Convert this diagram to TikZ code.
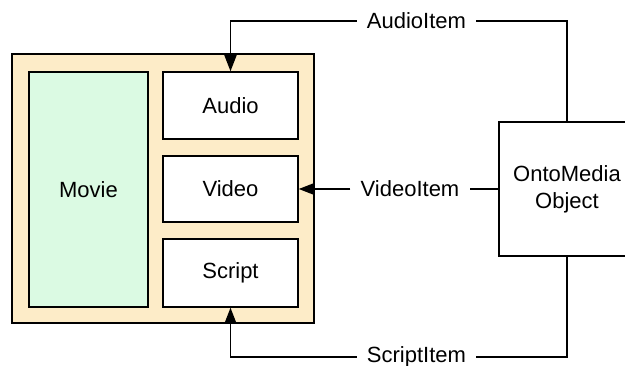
\documentclass[tikz,border=0pt]{standalone}
\usepackage{fontspec}
\setmainfont{Liberation Sans}
\usetikzlibrary{arrows.meta}
\definecolor{framefill}{RGB}{253,236,200}
\definecolor{moviefill}{RGB}{219,250,227}
\begin{document}
\begin{tikzpicture}[x=1pt,y=-1pt,
  every node/.style={font=\fontsize{22}{27}\selectfont},
  box/.style={draw=black, line width=1.5pt, inner sep=0pt, anchor=center},
  lbl/.style={inner xsep=10pt, inner ysep=0pt},
  link/.style={line width=1.5pt},
  arr/.style={link, -{Triangle[length=16pt,width=12pt]}}]
  \useasboundingbox (0,0) rectangle (625,366);
  % container and its parts
  \node[box, fill=framefill, minimum width=302pt, minimum height=269pt] (frame) at (163,188.5) {};
  \node[box, fill=moviefill, minimum width=119pt, minimum height=235pt] (movie) at (88.5,189.5) {Movie};
  \node[box, fill=white, minimum width=135pt, minimum height=67pt] (audio) at (230.5,105.5) {Audio};
  \node[box, fill=white, minimum width=135pt, minimum height=66pt] (video) at (230.5,189) {Video};
  \node[box, fill=white, minimum width=135pt, minimum height=68pt] (script) at (230.5,273) {Script};
  % the object on the right
  \node[box, fill=white, minimum width=136pt, minimum height=134pt, align=center] (onto) at (567,189) {OntoMedia\\Object};
  % relation labels
  \node[lbl] (audioItem) at (416.5,21) {AudioItem};
  \node[lbl] (videoItem) at (410,189) {VideoItem};
  \node[lbl] (scriptItem) at (416.5,357) {ScriptItem};
  % connectors
  \draw[link] (onto.north) |- (audioItem.east);
  \draw[arr] (audioItem.west) -| (audio.north);
  \draw[link] (onto.west) -- (videoItem.east);
  \draw[arr] (videoItem.west) -- (video.east);
  \draw[link] (onto.south) |- (scriptItem.east);
  \draw[arr] (scriptItem.west) -| (script.south);
\end{tikzpicture}
\end{document}
